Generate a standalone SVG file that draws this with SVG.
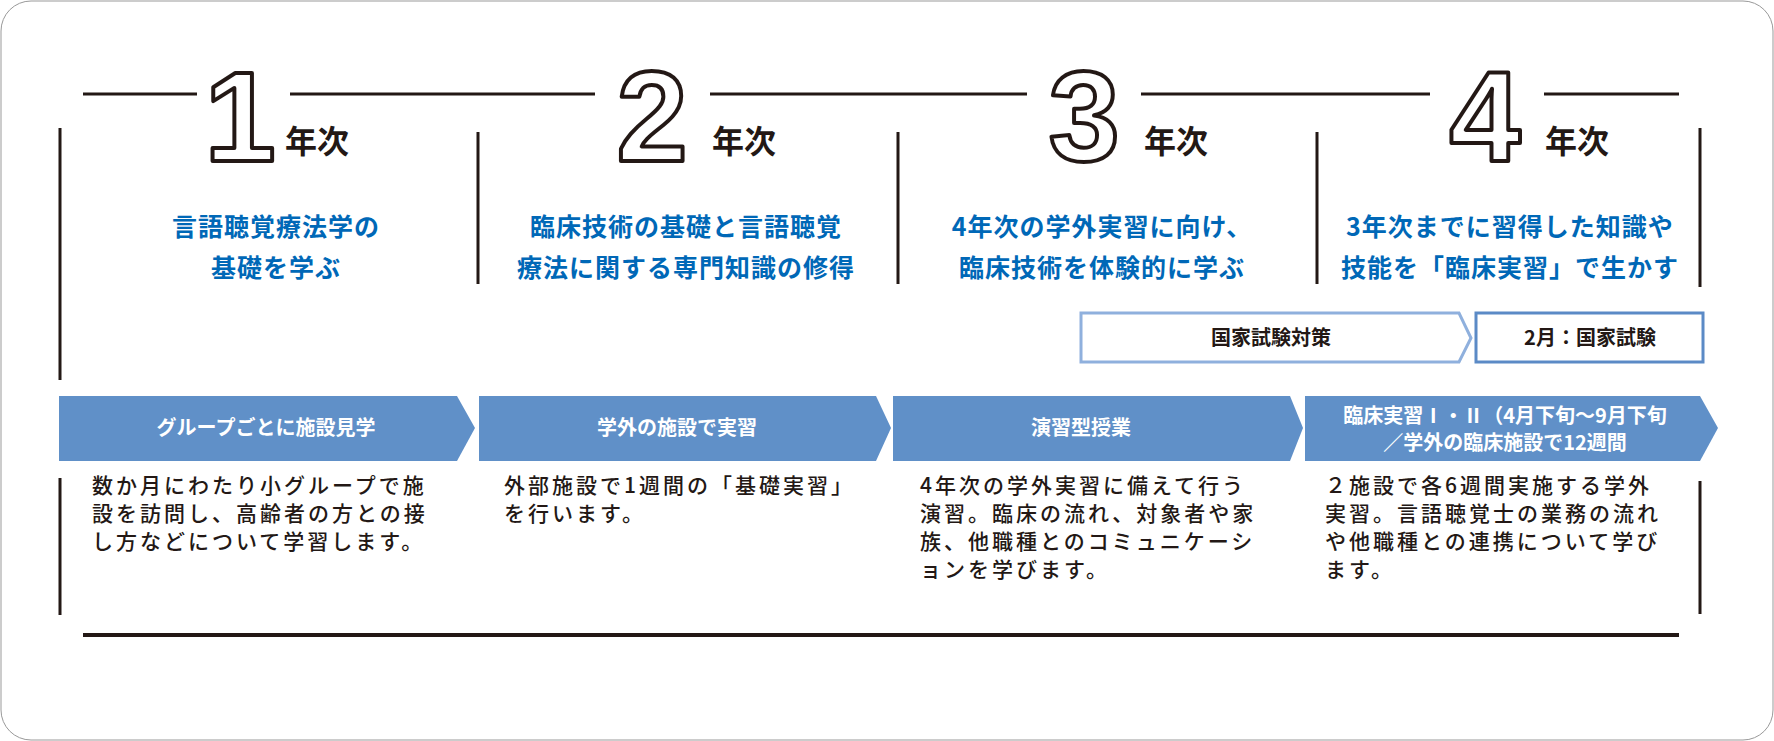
<svg xmlns="http://www.w3.org/2000/svg" width="1774" height="741" viewBox="0 0 1774 741">
<style>
.ln{stroke:#231815;stroke-width:3;fill:none}
.num{font-family:"Liberation Sans",sans-serif;font-size:128px;font-weight:bold;fill:#fff;stroke:#231815;stroke-width:4;stroke-linejoin:round;text-anchor:middle}
.yr{font-family:"Noto Sans CJK JP",sans-serif;font-size:32px;font-weight:bold;fill:#231815}
.hd{font-family:"Noto Sans CJK JP",sans-serif;font-size:25px;font-weight:bold;fill:#0068b7;text-anchor:middle;letter-spacing:1px}
.bar{fill:#6090c8}
.bt{font-family:"Noto Sans CJK JP",sans-serif;font-size:20px;font-weight:bold;fill:#fff;text-anchor:middle}
.body{font-family:"Noto Sans CJK JP",sans-serif;font-size:21px;font-weight:500;fill:#231815;letter-spacing:3px}
.ex{font-family:"Noto Sans CJK JP",sans-serif;font-size:20px;font-weight:bold;fill:#231815;text-anchor:middle}
</style>
<rect x="1" y="1" width="1772" height="739" rx="30" fill="#fff" stroke="#999" stroke-width="1"/>
<g id="connectors">
<path class="ln" d="M83 94H197M290 94H595M710 94H1027M1141 94H1430M1544 94H1679"/>
<path class="ln" d="M60 128V380M478 132V284M898 132V284M1317 132V284M1700 128V287M60 478V615M1700 481V614"/>
<path d="M83 635H1679" stroke="#231815" stroke-width="4"/>
</g>
<g id="year1"><text class="num" x="240" y="161">1</text><text class="yr" x="285" y="153">年次</text>
<text class="hd" x="276" y="236">言語聴覚療法学の</text><text class="hd" x="276" y="277">基礎を学ぶ</text></g>
<g id="year2"><text class="num" x="652" y="161">2</text><text class="yr" x="712" y="153">年次</text>
<text class="hd" x="686" y="236">臨床技術の基礎と言語聴覚</text><text class="hd" x="686" y="277">療法に関する専門知識の修得</text></g>
<g id="year3"><text class="num" x="1084" y="161">3</text><text class="yr" x="1144" y="153">年次</text>
<text class="hd" x="1102" y="236">4年次の学外実習に向け、</text><text class="hd" x="1102" y="277">臨床技術を体験的に学ぶ</text></g>
<g id="year4"><text class="num" x="1485" y="161">4</text><text class="yr" x="1545" y="153">年次</text>
<text class="hd" x="1510" y="236">3年次までに習得した知識や</text><text class="hd" x="1510" y="277">技能を「臨床実習」で生かす</text></g>
<g id="exam-prep"><path d="M1081 313H1459L1471 338L1459 362H1081Z" fill="#fff" stroke="#8fb0dd" stroke-width="3"/><text class="ex" x="1271" y="345">国家試験対策</text></g>
<g id="exam"><rect x="1476" y="313" width="227" height="49" fill="#fff" stroke="#5b8ac6" stroke-width="3"/><text class="ex" x="1590" y="345">2月：国家試験</text></g>
<g id="bar1"><path class="bar" d="M59 396H457L475 428L457 461H59Z"/><text class="bt" x="266" y="435">グループごとに施設見学</text></g>
<g id="bar2"><path class="bar" d="M479 396H876L891 428L876 461H479Z"/><text class="bt" x="677" y="435">学外の施設で実習</text></g>
<g id="bar3"><path class="bar" d="M893 396H1290L1303 428L1290 461H893Z"/><text class="bt" x="1081" y="435">演習型授業</text></g>
<g id="bar4"><path class="bar" d="M1305 396H1700L1718 428L1700 461H1305Z"/><text class="bt" x="1505" y="423">臨床実習Ⅰ・Ⅱ（4月下旬〜9月下旬</text><text class="bt" x="1505" y="450">／学外の臨床施設で12週間</text></g>
<g id="text1"><text class="body" x="92" y="493">数か月にわたり小グループで施</text><text class="body" x="92" y="521">設を訪問し、高齢者の方との接</text><text class="body" x="92" y="549">し方などについて学習します。</text></g>
<g id="text2"><text class="body" x="504" y="493">外部施設で1週間の「基礎実習」</text><text class="body" x="504" y="521">を行います。</text></g>
<g id="text3"><text class="body" x="920" y="493">4年次の学外実習に備えて行う</text><text class="body" x="920" y="521">演習。臨床の流れ、対象者や家</text><text class="body" x="920" y="549">族、他職種とのコミュニケーシ</text><text class="body" x="920" y="577">ョンを学びます。</text></g>
<g id="text4"><text class="body" x="1325" y="493">２施設で各6週間実施する学外</text><text class="body" x="1325" y="521">実習。言語聴覚士の業務の流れ</text><text class="body" x="1325" y="549">や他職種との連携について学び</text><text class="body" x="1325" y="577">ます。</text></g>
</svg>
